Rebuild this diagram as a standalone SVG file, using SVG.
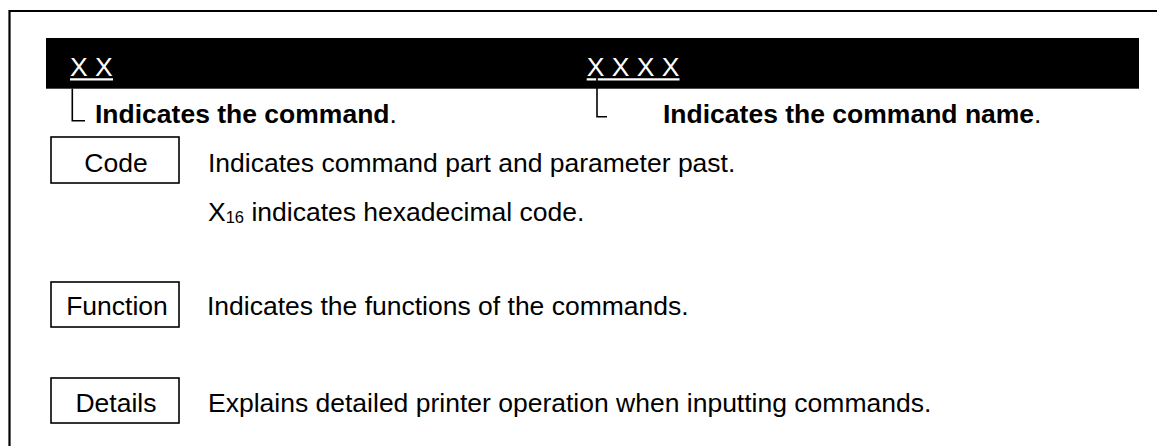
<svg xmlns="http://www.w3.org/2000/svg" width="1157" height="446" viewBox="0 0 1157 446">
<style>
text{font-family:"Liberation Sans",Arial,sans-serif;font-size:26.5px;fill:#000}
.w{fill:#fff}
.b{font-weight:bold}
.n{font-weight:normal}
.box{fill:#fff;stroke:#000;stroke-width:1.6}
.ul{stroke:#fff;stroke-width:2.2}
.br{fill:none;stroke:#000;stroke-width:1.6}
.sub{font-size:16.5px}
</style>
<rect width="1157" height="446" fill="#fff"/>
<g id="frame">
<path d="M9.5 446 V11 H1157" fill="none" stroke="#000" stroke-width="2.2"/>
</g>
<g id="header">
<rect x="46" y="38" width="1093" height="50.7" fill="#000"/>
<text class="w" x="70" y="76">X X</text>
<line class="ul" x1="70" y1="79.3" x2="113" y2="79.3"/>
<text class="w" x="586.7" y="76">X X X X</text>
<line class="ul" x1="586.7" y1="79.3" x2="679.5" y2="79.3"/>
</g>
<g id="connectors">
<path class="br" d="M72.3 88.7 V120.7 H85"/>
<path class="br" d="M597 77 V116.7 H607"/>
</g>
<g id="label-command">
<text class="b" x="95" y="123">Indicates the command<tspan class="n">.</tspan></text>
</g>
<g id="label-command-name">
<text class="b" x="663" y="123">Indicates the command name<tspan class="n">.</tspan></text>
</g>
<g id="code">
<rect class="box" x="51" y="137" width="128" height="46"/>
<text x="116" y="171.7" text-anchor="middle">Code</text>
<text x="208" y="171.7">Indicates command part and parameter past.</text>
<text x="208" y="220.7">X<tspan class="sub" dy="2.5">16</tspan><tspan dy="-2.5"> indicates hexadecimal code.</tspan></text>
</g>
<g id="function">
<rect class="box" x="51" y="282" width="128" height="45"/>
<text x="117" y="315" text-anchor="middle">Function</text>
<text x="207" y="315">Indicates the functions of the commands.</text>
</g>
<g id="details">
<rect class="box" x="51" y="378" width="128" height="45"/>
<text x="116" y="411.7" text-anchor="middle">Details</text>
<text x="208" y="411.7">Explains detailed printer operation when inputting commands.</text>
</g>
</svg>
